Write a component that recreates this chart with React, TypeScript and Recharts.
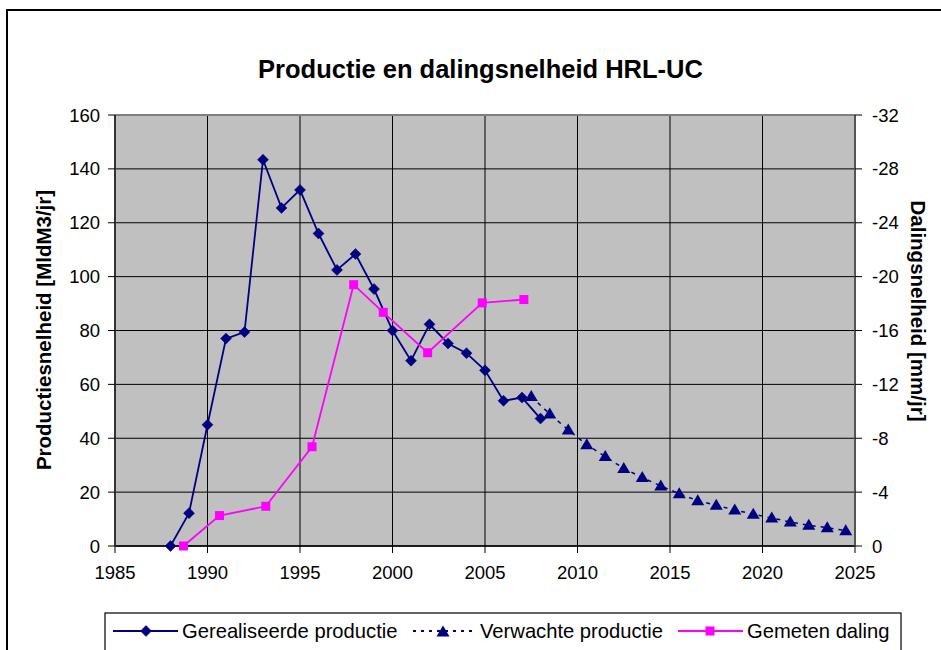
import React from 'react';
import { ComposedChart, Line, XAxis, YAxis, CartesianGrid, ReferenceLine } from 'recharts';

const realisedYears = [1988, 1989, 1990, 1991, 1992, 1993, 1994, 1995, 1996, 1997, 1998, 1999, 2000, 2001, 2002, 2003, 2004, 2005, 2006, 2007, 2008];
const realisedValues = [0, 12.2, 45, 77, 79.4, 143.4, 125.5, 132.2, 116, 102.5, 108.4, 95.4, 80, 68.8, 82.3, 75.2, 71.6, 65.2, 53.9, 55.1, 47.3];

const expectedYears = [2007.5, 2008.5, 2009.5, 2010.5, 2011.5, 2012.5, 2013.5, 2014.5, 2015.5, 2016.5, 2017.5, 2018.5, 2019.5, 2020.5, 2021.5, 2022.5, 2023.5, 2024.5];
const expectedValues = [55.5, 49, 43.1, 37.6, 33.2, 28.8, 25.4, 22.3, 19.4, 16.8, 15.1, 13.4, 11.8, 10.4, 8.9, 7.7, 6.8, 5.7];

const subsidenceYears = [1988.7, 1990.65, 1993.15, 1995.65, 1997.9, 1999.5, 2001.9, 2004.85, 2007.1];
const subsidenceValues = [0, -2.26, -2.95, -7.37, -19.4, -17.35, -14.35, -18.05, -18.3];

const xTicks = [1985, 1990, 1995, 2000, 2005, 2010, 2015, 2020, 2025];
const leftTicks = [0, 20, 40, 60, 80, 100, 120, 140, 160];
const rightTicks = [0, -4, -8, -12, -16, -20, -24, -28, -32];

const titleText = 'Productie en dalingsnelheid HRL-UC';
const leftAxisTitle = 'Productiesnelheid [MldM3/jr]';
const rightAxisTitle = 'Dalingsnelheid [mm/jr]';
const seriesNames = ['Gerealiseerde productie', 'Verwachte productie', 'Gemeten daling'];

const realisedData = realisedYears.map((x, i) => ({ x, v: realisedValues[i] }));
const expectedData = expectedYears.map((x, i) => ({ x, v: expectedValues[i] }));
const subsidenceData = subsidenceYears.map((x, i) => ({ x, v: subsidenceValues[i] }));

const NAVY = '#000080';
const MAGENTA = '#FF00FF';
const FONT = '"Liberation Sans", Arial, sans-serif';

const Diamond = ({ cx, cy }: { cx: number; cy: number }) => (
  <path d={`M${cx},${cy - 5.5}L${cx + 5.5},${cy}L${cx},${cy + 5.5}L${cx - 5.5},${cy}Z`} fill={NAVY} stroke={NAVY} strokeWidth={0.5} />
);
const Triangle = ({ cx, cy }: { cx: number; cy: number }) => (
  <path d={`M${cx},${cy - 6.5}L${cx + 6.5},${cy + 4.5}L${cx - 6.5},${cy + 4.5}Z`} fill={NAVY} />
);
const Square = ({ cx, cy }: { cx: number; cy: number }) => (
  <rect x={cx - 4.5} y={cy - 4.5} width={9} height={9} fill={MAGENTA} />
);

const tickStyle = { fill: '#000', fontSize: 18.5, fontFamily: FONT };

export default function App() {
  return (
    <div style={{ position: 'absolute', left: 0, top: 0, width: 941, height: 650, overflow: 'hidden', background: '#fff' }}>
      <div style={{ position: 'absolute', left: 6, top: 9, width: 1000, height: 1000, borderLeft: '2px solid #000', borderTop: '2px solid #000' }} />
      <div style={{ position: 'absolute', left: 0, top: 0 }}>
        <ComposedChart width={941} height={650} margin={{ top: 115, right: 26, bottom: 74, left: 55 }}>
          <CartesianGrid
            yAxisId="left"
            stroke="#000"
            strokeWidth={1}
            fill="#C0C0C0"
            fillOpacity={1}
            verticalValues={xTicks}
            horizontalValues={leftTicks}
          />
          <XAxis
            type="number"
            dataKey="x"
            domain={[1985, 2025]}
            ticks={xTicks}
            interval={0}
            allowDataOverflow
            height={30}
            tick={tickStyle}
            tickSize={7}
            tickMargin={13}
            axisLine={{ stroke: '#000', strokeWidth: 1.5 }}
            tickLine={{ stroke: '#000' }}
          />
          <YAxis
            yAxisId="left"
            orientation="left"
            type="number"
            domain={[0, 160]}
            ticks={leftTicks}
            interval={0}
            width={60}
            tick={tickStyle}
            tickSize={7}
            tickMargin={8}
            axisLine={{ stroke: '#333', strokeWidth: 2 }}
            tickLine={{ stroke: '#000' }}
          />
          <YAxis
            yAxisId="right"
            orientation="right"
            type="number"
            domain={[-32, 0]}
            reversed
            ticks={rightTicks}
            interval={0}
            width={60}
            tick={{ ...tickStyle, textAnchor: 'start' }}
            tickSize={7}
            tickMargin={10}
            axisLine={{ stroke: '#555', strokeWidth: 2 }}
            tickLine={{ stroke: '#000' }}
          />
          <ReferenceLine yAxisId="left" y={160} stroke="#808080" strokeWidth={2} />
          <Line
            yAxisId="left"
            data={realisedData}
            dataKey="v"
            stroke={NAVY}
            strokeWidth={1.8}
            isAnimationActive={false}
            dot={(p: any) => <Diamond key={`d${p.index}`} cx={p.cx} cy={p.cy} />}
          />
          <Line
            yAxisId="left"
            data={expectedData}
            dataKey="v"
            stroke={NAVY}
            strokeWidth={1.5}
            strokeDasharray="4 5"
            isAnimationActive={false}
            dot={(p: any) => <Triangle key={`t${p.index}`} cx={p.cx} cy={p.cy} />}
          />
          <Line
            yAxisId="right"
            data={subsidenceData}
            dataKey="v"
            stroke={MAGENTA}
            strokeWidth={1.8}
            isAnimationActive={false}
            dot={(p: any) => <Square key={`s${p.index}`} cx={p.cx} cy={p.cy} />}
          />
        </ComposedChart>
      </div>
      <svg width={941} height={650} style={{ position: 'absolute', left: 0, top: 0, pointerEvents: 'none' }}>
        <text x={480.5} y={78} textAnchor="middle" fontFamily={FONT} fontWeight="bold" fontSize={25.5} fill="#000">
          {titleText}
        </text>
        <text
          x={43}
          y={330}
          textAnchor="middle"
          dominantBaseline="central"
          transform="rotate(-90 43 330)"
          fontFamily={FONT}
          fontWeight="bold"
          fontSize={20.5}
          fill="#000"
        >
          {leftAxisTitle}
        </text>
        <text
          x={918}
          y={311}
          textAnchor="middle"
          dominantBaseline="central"
          transform="rotate(90 918 311)"
          fontFamily={FONT}
          fontWeight="bold"
          fontSize={20.5}
          fill="#000"
        >
          {rightAxisTitle}
        </text>
        <rect x={105} y={613} width={796} height={60} fill="#fff" stroke="#000" strokeWidth={1.2} />
        <line x1={113} y1={631} x2={178} y2={631} stroke={NAVY} strokeWidth={2} />
        <Diamond cx={146} cy={631} />
        <text x={182} y={638} fontFamily={FONT} fontSize={20.2} fill="#000">{seriesNames[0]}</text>
        <line x1={413} y1={631} x2={472} y2={631} stroke={NAVY} strokeWidth={2} strokeDasharray="3 5" />
        <Triangle cx={443} cy={632} />
        <text x={480} y={638} fontFamily={FONT} fontSize={20.2} fill="#000">{seriesNames[1]}</text>
        <line x1={678} y1={631} x2={743} y2={631} stroke={MAGENTA} strokeWidth={2} />
        <Square cx={710} cy={631} />
        <text x={747} y={638} fontFamily={FONT} fontSize={20.2} fill="#000">{seriesNames[2]}</text>
      </svg>
    </div>
  );
}
